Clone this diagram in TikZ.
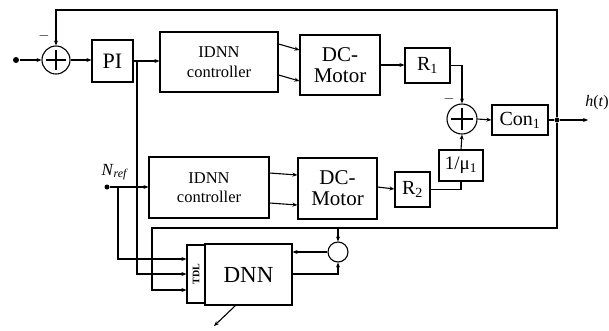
\documentclass[tikz,border=0pt]{standalone}
\usepackage{fontspec}
\setmainfont{Liberation Serif}
\usetikzlibrary{arrows.meta,calc}
\begin{document}
\begin{tikzpicture}[x=1pt,y=-1pt,
  line width=1.1pt,
  >={Stealth[length=5pt,width=4pt]},
  blk/.style={draw,line width=1.2pt,inner sep=0pt,align=center},
  sumc/.style={draw,circle,line width=1.1pt,inner sep=0pt},
  dotn/.style={circle,fill,inner sep=0pt,minimum size=6pt},
  fs/.style={font=\fontsize{#1}{#1}\selectfont}
]
\useasboundingbox (0,0) rectangle (609,330);
% blocks
\node[blk,fs=22,minimum width=41pt,minimum height=42pt] (pi) at (112.5,61) {PI};
\node[blk,fs=16.5,minimum width=118pt,minimum height=60pt,text width=110pt] (idnn1) at (219,62) {IDNN\\[3pt]controller};
\node[blk,fs=21,minimum width=80pt,minimum height=60pt] (dc1) at (340,65) {DC-\\Motor};
\node[blk,fs=20,minimum width=45pt,minimum height=35pt] (r1) at (427.5,65.5) {R\textsubscript{1}};
\node[sumc,minimum size=30pt] (s2) at (462,119) {};
\node[blk,fs=20,minimum width=56pt,minimum height=30pt] (con) at (520,120) {Con\textsubscript{1}};
\node[blk,fs=19,minimum width=44pt,minimum height=31pt] (mu) at (461,165.5) {1/μ\textsubscript{1}};
\node[blk,fs=20,minimum width=35pt,minimum height=35pt] (r2) at (412.5,189.5) {R\textsubscript{2}};
\node[blk,fs=21,minimum width=79pt,minimum height=61pt] (dc2) at (337.5,188.5) {DC-\\Motor};
\node[blk,fs=16.5,minimum width=120pt,minimum height=61pt,text width=110pt] (idnn2) at (209,187.5) {IDNN\\[3pt]controller};
\node[blk,fs=10,minimum width=18pt,minimum height=58pt] (tdl) at (196,274) {\rotatebox{90}{\textbf{TDL}}};
\node[blk,fs=23,minimum width=87pt,minimum height=61pt] (dnn) at (248.5,274.5) {DNN};
\node[sumc,minimum size=20pt] (s3) at (338,252) {};
\node[sumc,minimum size=28pt] (s1) at (56,60) {};
\node[dotn] (in) at (16,60) {};
\node[dotn,minimum size=5pt] (jn) at (557,120) {};
\node[dotn,minimum size=5pt] (nref) at (107,187) {};
% plus signs
\draw ($(s1.north)+(0,5)$) -- ($(s1.south)+(0,-5)$);
\draw ($(s1.west)+(5,0)$) -- ($(s1.east)+(-5,0)$);
\draw ($(s2.north)+(0,5)$) -- ($(s2.south)+(0,-5)$);
\draw ($(s2.west)+(5,0)$) -- ($(s2.east)+(-5,0)$);
% labels
\node[fs=15] (m1) at (44,36) {$-$};
\node[fs=15] (m2) at (449,99) {$-$};
\node[fs=16] (hl) at (597,103) {\textit{h}(\textit{t})};
\node[fs=17] (nl) at (115,172) {\textit{N}\textsubscript{\textit{ref}}};
% coordinates
\coordinate (b1) at (137,61);
\coordinate (hout) at (588,120);
\coordinate (ft1) at (557,10);
\coordinate (ft2) at (56,10);
\coordinate (fb1) at (557,228);
\coordinate (fb2) at (152,228);
\coordinate (fb3) at (338,228);
\coordinate (nb) at (118,187);
\coordinate (dnnout) at (236,305);
\coordinate (dnnend) at (214,326);
% upper loop
\draw[->] (in) -- (s1);
\draw[->] (s1) -- (pi.west |- s1);
\draw[->] (pi.east) -- (idnn1.west |- pi.east);
\draw[->] ([yshift=-13pt]idnn1.east) -- ([yshift=-16pt]dc1.west);
\draw[->] ([yshift=18pt]idnn1.east) -- ([yshift=15pt]dc1.west);
\draw[->] (dc1.east) -- (r1.west |- dc1.east);
\draw[->] (r1.east) -| (s2.north);
\draw[->] (mu.north) -- (s2.south);
\draw[->] (s2.east) -- (con.west);
\draw (con.east) -- (jn);
\draw[->] (jn) -- (hout);
\draw[->] (jn) -- (ft1) -- (ft2) -- (s1.north);
% lower loop
\draw[->] (nref) -- (idnn2.west |- nref);
\draw[->] ([yshift=-15.5pt]idnn2.east) -- ([yshift=-16.5pt]dc2.west);
\draw[->] ([yshift=14.5pt]idnn2.east) -- ([yshift=13.5pt]dc2.west);
\draw[->] ([yshift=1.5pt]dc2.east) -- ([yshift=0.5pt]r2.west);
\draw (r2.east) -| (mu.south);
% DNN connections
\draw[->] (jn) -- (fb1) -- (fb2) |- ([yshift=-16pt]tdl.west);
\draw[->] (b1) |- (tdl.west);
\draw[->] (nb) |- ([yshift=15pt]tdl.west);
\draw[->] (fb3) -- (s3.north);
\draw[->] (s3.west) -- (dnn.east |- s3.west);
\draw[->] ([yshift=0.5pt]dnn.east) -| (s3.south);
\draw[->] (dnnout) -- (dnnend);
\end{tikzpicture}
\end{document}
